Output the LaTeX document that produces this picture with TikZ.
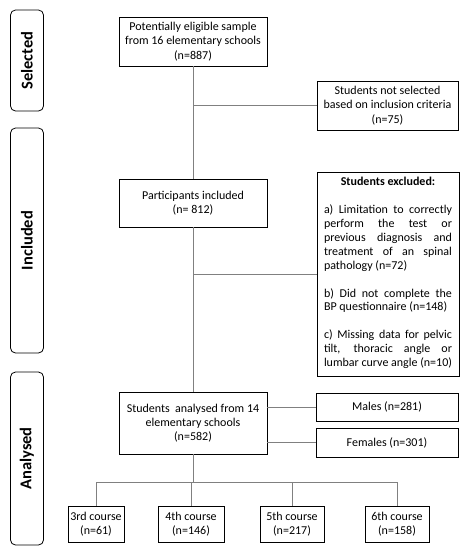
\documentclass[tikz,border=0pt]{standalone}
\usepackage{fontspec}
\setmainfont{Carlito}
\begin{document}
\begin{tikzpicture}[x=1pt,y=-1pt,
  box/.style={draw=black,line width=0.8pt,align=center,inner sep=0pt,font=\fontsize{12}{14.3}\selectfont},
  phase/.style={draw=black,line width=0.8pt,rounded corners=5pt,minimum width=33pt,inner sep=0pt},
  phasetext/.style={rotate=90,font=\fontsize{16.5}{18}\selectfont\bfseries},
  conn/.style={draw=black!50,line width=0.8pt}]
\useasboundingbox (0,0) rectangle (467,550);
% phases
\node[phase,minimum height=101pt] (psel) at (27,60.5) {};
\node[phasetext] (tsel) at (psel.center) {Selected};
\node[phase,minimum height=225pt] (pinc) at (27,240.5) {};
\node[phasetext] (tinc) at (pinc.center) {Included};
\node[phase,minimum height=173pt] (pana) at (27,458.5) {};
\node[phasetext] (tana) at (pana.center) {Analysed};
% main boxes
\node[box,minimum width=148pt,minimum height=49pt] (top) at (193,41.5) {Potentially eligible sample\\from 16 elementary schools\\(n=887)};
\node[box,minimum width=141pt,minimum height=49pt] (notsel) at (387.5,105.5) {Students not selected\\based on inclusion criteria\\(n=75)};
\node[box,minimum width=148pt,minimum height=48pt] (part) at (193,203) {Participants included\\(n= 812)};
\node[box,anchor=north,minimum width=142pt,minimum height=204pt,align=left,inner sep=0pt] (excl) at (388,172) {%
\parbox[t][204pt][t]{128pt}{\fontsize{12}{13.9}\selectfont\vspace*{5pt}%
\centerline{\bfseries Students excluded:}\par\vspace{13.9pt}%
a) Limitation to correctly\linebreak perform the test or\linebreak previous diagnosis and\linebreak treatment of an spinal\linebreak pathology (n=72)\par\vspace{13.9pt}%
b) Did not complete the\linebreak BP questionnaire (n=148)\par\vspace{13.9pt}%
c) Missing data for pelvic\linebreak tilt, thoracic angle or\linebreak lumbar curve angle (n=10)\par}};
\node[box,minimum width=148pt,minimum height=62pt] (ana) at (193,423) {Students\ \ analysed from 14\\elementary schools\\(n=582)};
\node[box,minimum width=142pt,minimum height=28pt] (males) at (387,407) {Males (n=281)};
\node[box,minimum width=142pt,minimum height=29pt] (fem) at (387,442.5) {Females (n=301)};
% courses
\node[box,minimum width=56pt,minimum height=36pt] (c3) at (96,524) {3rd course\\(n=61)};
\node[box,minimum width=66pt,minimum height=36pt] (c4) at (191,524) {4th course\\(n=146)};
\node[box,minimum width=64pt,minimum height=36pt] (c5) at (292,524) {5th course\\(n=217)};
\node[box,minimum width=64pt,minimum height=36pt] (c6) at (397,524) {6th course\\(n=158)};
% connectors
\draw[conn] (top.south) -- (part.north);
\draw[conn] (top.south |- notsel.west) -- (notsel.west);
\draw[conn] (part.south) -- (ana.north);
\draw[conn] (part.south |- excl.west) -- (excl.west);
\draw[conn] (ana.east |- males.west) -- (males.west);
\draw[conn] (ana.east |- fem.west) -- (fem.west);
\coordinate (bus) at (193,482);
\draw[conn] (ana.south) -- (bus);
\draw[conn] (c3.north |- bus) -- (c6.north |- bus);
\draw[conn] (c3.north |- bus) -- (c3.north);
\draw[conn] (c4.north |- bus) -- (c4.north);
\draw[conn] (c5.north |- bus) -- (c5.north);
\draw[conn] (c6.north |- bus) -- (c6.north);
\end{tikzpicture}
\end{document}
